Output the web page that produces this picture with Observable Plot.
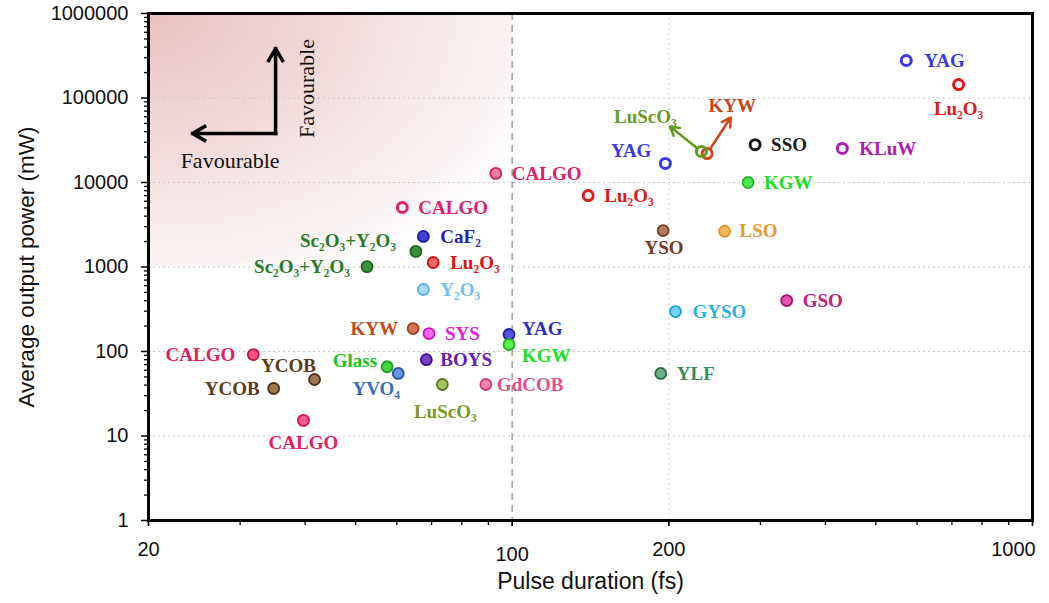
<!DOCTYPE html>
<html>
<head>
<meta charset="utf-8">
<script src="https://cdn.jsdelivr.net/npm/d3@7"></script>
<script src="https://cdn.jsdelivr.net/npm/@observablehq/plot@0.6"></script>
<style>
  html, body { margin: 0; padding: 0; background: #fff; }
  #chart svg { display: block; }
</style>
</head>
<body>
<div id="chart"></div>
<script>
// Ultrafast laser results: gain material, pulse duration (fs), average output power (mW)
const materials = [
  "YAG", "Lu₂O₃", "KYW", "LuScO₃", "SSO", "KLuW", "YAG", "KGW", "Lu₂O₃", "YSO",
  "LSO", "CALGO", "CALGO", "CaF₂", "Sc₂O₃+Y₂O₃", "Sc₂O₃+Y₂O₃", "Lu₂O₃", "Y₂O₃", "KYW", "SYS",
  "YAG", "KGW", "CALGO", "BOYS", "Glass", "YVO₄", "YCOB", "YCOB", "LuScO₃", "GdCOB",
  "CALGO", "GYSO", "GSO", "YLF"
];
const pulseFs = [
  572, 721, 237, 231, 293, 431, 197, 284, 140, 195,
  256, 93, 61.5, 67.5, 65.3, 52.6, 70.5, 67.5, 64.5, 69.2,
  98.6, 98.6, 31.8, 68.4, 57.5, 60.4, 41.7, 34.8, 73.4, 89,
  39.7, 206, 337, 193
];
const powerMW = [
  278000, 144000, 22000, 23300, 28000, 25300, 16800, 10000, 7000, 2700,
  2650, 12800, 5060, 2300, 1530, 1010, 1130, 542, 187, 163,
  159, 121, 92, 80, 66, 55, 46.6, 36.5, 40.7, 40.7,
  15.3, 297, 401, 55
];
// open rings vs. filled discs
const isRing = [
  true, true, true, true, true, true, true, false, true, false,
  false, false, true, false, false, false, false, false, false, false,
  false, false, false, false, false, false, false, false, false, false,
  false, false, false, false
];

// styling per entry
const strokeColors = [
  "#3a3ae0", "#e01818", "#d0461c", "#5f9a1a", "#1c1c1c", "#b01cb0", "#3a3ae0", "#20b820", "#e01818", "#7a3e22",
  "#e0962a", "#cc1e5c", "#e0206a", "#1e1e96", "#1e641e", "#1e641e", "#cc1414", "#5aaee0", "#a04020", "#cc10cc",
  "#2020a0", "#1eb41e", "#c01040", "#401090", "#1ea01e", "#2a50a0", "#4a3018", "#4a3018", "#5a7a1a", "#cc3c6e",
  "#d01050", "#1c9cd6", "#a01060", "#2a6a4a"
];
const fillColors = [
  "#fff", "#fff", "#fff", "#fff", "#fff", "#fff", "#fff", "#50e850", "#fff", "#b07a62",
  "#f7b85a", "#f07aa6", "#fff", "#4444d4", "#3f8f3f", "#3f8f3f", "#f26464", "#a6daf8", "#d47654", "#f266f2",
  "#5252e2", "#56f056", "#f25484", "#7444c4", "#46d446", "#6494e2", "#a27a52", "#a27a52", "#a4c464", "#f284b4",
  "#f25c92", "#74d2f8", "#e454b4", "#72aa8a"
];
const textColors = [
  "#3a3ae0", "#e01818", "#c8461c", "#6a9a2a", "#1c1c1c", "#b01cb0", "#3a3ae0", "#22e022", "#e01818", "#7a3a20",
  "#e89a30", "#e0206a", "#e0206a", "#2424aa", "#2a7a2a", "#2a7a2a", "#e01010", "#72c2ea", "#c04a20", "#e020e0",
  "#3030c0", "#20e020", "#e0205a", "#6020b0", "#20c020", "#3a6ac0", "#5a3a1a", "#5a3a1a", "#7a9a2a", "#e0508a",
  "#e02060", "#30b0e0", "#c0207a", "#3a8a5a"
];
// label placement relative to its marker: [dx, dy, textAnchor]
const labelPlacement = [
  [18, 0, "start"], [0, 24, "middle"], [25, -48, "middle"], [-56, -35, "middle"], [16, 0, "start"],
  [17, 0, "start"], [-14, -13, "end"], [16, 0, "start"], [16, 0, "start"], [1, 17, "middle"],
  [15, 0, "start"], [16, 0, "start"], [16, 0, "start"], [17, 0, "start"], [-20, -10, "end"],
  [-17, 0, "end"], [17, 0, "start"], [17, 0, "start"], [-15, 0, "end"], [16, 0, "start"],
  [13, -6, "start"], [13, 11, "start"], [-18, 0, "end"], [14, 0, "start"], [-10, -6, "end"],
  [-22, 15, "middle"], [-26, -14, "middle"], [-14, 0, "end"], [3, 27, "middle"], [11, 0, "start"],
  [0, 23, "middle"], [17, 0, "start"], [16, 0, "start"], [16, 0, "start"]
];

// pointer arrows for the two overlapping rings: [entry index, tip pulse (fs), tip power (mW)]
const pointerArrows = [[2, 263, 58800], [3, 201, 46000]];

// axes
const xTickLabels = [20, 100, 200, 1000];
const xMinorTicks = [20, 30, 40, 50, 60, 70, 80, 90, 100, 200, 300, 400, 500, 600, 700, 800, 900, 1000];
const yTickLabels = [1, 10, 100, 1000, 10000, 100000, 1000000];
const yMinorTicks = d3.range(0, 6).flatMap(e => d3.range(2, 10).map(m => m * 10 ** e));
const yGrid = [10, 100, 1000, 10000, 100000];

// favourable region and its direction arrows
const favourableX = [20, 100];
const favourableY = [1000, 1000000];
const favourCorner = [35.1, 38000];
const favourLeftTip = 24.3;
const favourUpTip = 385000;
const favourTextH = [28.7, 18200];
const favourTextV = [40.4, 129500];

const idx = d3.range(materials.length);
const ringIdx = idx.filter(i => isRing[i]);
const discIdx = idx.filter(i => !isRing[i]);

const serif = "'Liberation Serif', 'Times New Roman', serif";
const sans = "'Liberation Sans', Arial, sans-serif";

const labelMarks = idx.map(i => Plot.text([i], {
  x: j => pulseFs[j],
  y: j => powerMW[j],
  text: j => materials[j],
  fill: textColors[i],
  dx: labelPlacement[i][0],
  dy: labelPlacement[i][1],
  textAnchor: labelPlacement[i][2],
  fontFamily: serif,
  fontWeight: "bold",
  fontSize: 19
}));

const pointerMarks = pointerArrows.map(([k, tx, ty]) => Plot.arrow([k], {
  x1: j => pulseFs[j], y1: j => powerMW[j],
  x2: () => tx, y2: () => ty,
  stroke: strokeColors[k],
  strokeWidth: 2.5,
  headLength: 6,
  insetStart: 6
}));

const tickText = { fontSize: 20, fontFamily: sans, fill: "#111", label: null, tickFormat: d => String(d) };

const chart = Plot.plot({
  width: 1049,
  height: 603,
  marginLeft: 148,
  marginRight: 17,
  marginTop: 13,
  marginBottom: 83,
  style: { fontFamily: sans, background: "#fff", overflow: "visible" },
  x: { type: "log", domain: [20, 1000], axis: null },
  y: { type: "log", domain: [1, 1000000], axis: null },
  color: { type: "identity" },
  marks: [
    // favourable corner (short pulses, high power)
    Plot.rect([0], {
      x1: () => favourableX[0], x2: () => favourableX[1],
      y1: () => favourableY[0], y2: () => favourableY[1],
      fill: "url(#favourGradient)"
    }),
    // grid
    Plot.ruleY(yGrid, { stroke: "#c8c8c8", strokeWidth: 1, strokeDasharray: "2,3" }),
    Plot.ruleX([200], { stroke: "#d0d0d0", strokeWidth: 1, strokeDasharray: "2,3" }),
    Plot.ruleX([100], { stroke: "#a8a8a8", strokeWidth: 1.6, strokeDasharray: "7,5" }),
    // axes
    Plot.axisY(yMinorTicks, { tickSize: 4, tickFormat: () => "", strokeWidth: 1.3 }),
    Plot.axisY(yTickLabels, { ...tickText, tickSize: 7, tickPadding: 13, strokeWidth: 1.5 }),
    Plot.axisX(xMinorTicks, { tickSize: 5, tickFormat: () => "", strokeWidth: 1.3 }),
    Plot.axisX(xTickLabels, { ...tickText, tickSize: 6, strokeWidth: 1.5, text: null }),
    Plot.axisX([20, 200], { ...tickText, tickSize: 0, tickPadding: 21 }),
    Plot.axisX([100], { ...tickText, tickSize: 0, tickPadding: 26 }),
    Plot.axisX([1000], { ...tickText, tickSize: 0, tickPadding: 21, dx: -19 }),
    Plot.frame({ stroke: "#000", strokeWidth: 3 }),
    // axis titles
    Plot.text(["Average output power (mW)"], {
      frameAnchor: "left", textAnchor: "middle", rotate: -90, dx: -122,
      fontSize: 22.5, fontFamily: sans, fill: "#111"
    }),
    Plot.text(["Pulse duration (fs)"], {
      frameAnchor: "bottom", textAnchor: "middle", dy: 68, fontSize: 23, fontFamily: sans, fill: "#111"
    }),
    // favourable direction arrows
    Plot.arrow([0], {
      x1: () => favourCorner[0], y1: () => favourCorner[1],
      x2: () => favourLeftTip, y2: () => favourCorner[1],
      stroke: "#000", strokeWidth: 3.5, headLength: 6, strokeLinecap: "square"
    }),
    Plot.arrow([0], {
      x1: () => favourCorner[0], y1: () => favourCorner[1],
      x2: () => favourCorner[0], y2: () => favourUpTip,
      stroke: "#000", strokeWidth: 3.5, headLength: 6, strokeLinecap: "square"
    }),
    Plot.text(["Favourable"], {
      x: () => favourTextH[0], y: () => favourTextH[1],
      fontFamily: serif, fontSize: 22, letterSpacing: "2.4px", fill: "#111"
    }),
    Plot.text(["Favourable"], {
      x: () => favourTextV[0], y: () => favourTextV[1], rotate: -90,
      fontFamily: serif, fontSize: 22, letterSpacing: "2.4px", fill: "#111"
    }),
    // pointers
    ...pointerMarks,
    // markers
    Plot.dot(discIdx, {
      x: i => pulseFs[i], y: i => powerMW[i], r: 5.5,
      fill: i => fillColors[i], stroke: i => strokeColors[i], strokeWidth: 1.8
    }),
    Plot.dot(ringIdx, {
      x: i => pulseFs[i], y: i => powerMW[i], r: 5,
      fill: i => fillColors[i], stroke: i => strokeColors[i], strokeWidth: 3, fillOpacity: 0
    }),
    // labels
    ...labelMarks
  ]
});

// radial wash for the favourable corner
const ns = "http://www.w3.org/2000/svg";
const defs = document.createElementNS(ns, "defs");
const grad = document.createElementNS(ns, "radialGradient");
grad.setAttribute("id", "favourGradient");
grad.setAttribute("cx", "0");
grad.setAttribute("cy", "0");
grad.setAttribute("fx", "0");
grad.setAttribute("fy", "0");
grad.setAttribute("r", "1.25");
[["0", "#e8c2c2", 1], ["0.45", "#f0d8d8", 0.9], ["0.8", "#f8eded", 0.7], ["1", "#ffffff", 0]].forEach(([o, c, a]) => {
  const s = document.createElementNS(ns, "stop");
  s.setAttribute("offset", o);
  s.setAttribute("stop-color", c);
  s.setAttribute("stop-opacity", a);
  grad.appendChild(s);
});
defs.appendChild(grad);
chart.insertBefore(defs, chart.firstChild);

document.getElementById("chart").appendChild(chart);
</script>
</body>
</html>
